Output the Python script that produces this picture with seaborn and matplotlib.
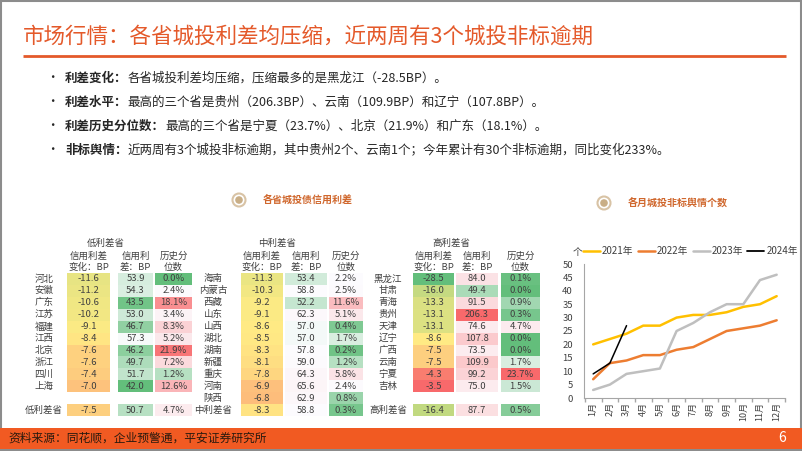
#!/usr/bin/env python3
"""
市场行情页：各省城投信用利差表 + 各月城投非标舆情个数折线
"""

import numpy as np
import pandas as pd
import matplotlib
matplotlib.use('Agg')
import matplotlib.pyplot as plt
import seaborn as sns
from matplotlib.colors import LinearSegmentedColormap, TwoSlopeNorm
from matplotlib.patches import Rectangle, Circle
from matplotlib.lines import Line2D

# ---------------- 数据 ----------------
low_names = ['河北', '安徽', '广东', '江苏', '福建', '江西', '北京', '浙江', '四川', '上海']
low_chg = [-11.6, -11.2, -10.6, -10.2, -9.1, -8.4, -7.6, -7.6, -7.4, -7.0]
low_spread = [53.9, 54.3, 43.5, 53.0, 46.7, 57.3, 46.2, 49.7, 51.7, 42.0]
low_pct = [0.0, 2.4, 18.1, 3.4, 8.3, 5.2, 21.9, 7.2, 1.2, 12.6]
low_total = [-7.5, 50.7, 4.7]

mid_names = ['海南', '内蒙古', '西藏', '山东', '山西', '湖北', '湖南', '新疆', '重庆', '河南', '陕西']
mid_chg = [-11.3, -10.3, -9.2, -9.1, -8.6, -8.5, -8.3, -8.1, -7.8, -6.9, -6.8]
mid_spread = [53.4, 58.8, 52.2, 62.3, 57.0, 57.0, 57.8, 59.0, 64.3, 65.6, 62.9]
mid_pct = [2.2, 2.5, 11.6, 5.1, 0.4, 1.7, 0.2, 1.2, 5.8, 2.4, 0.8]
mid_total = [-8.3, 58.8, 0.3]

high_names = ['黑龙江', '甘肃', '青海', '贵州', '天津', '辽宁', '广西', '云南', '宁夏', '吉林']
high_chg = [-28.5, -16.0, -13.3, -13.1, -13.1, -8.6, -7.5, -7.5, -4.3, -3.5]
high_spread = [84.0, 49.4, 91.5, 206.3, 74.6, 107.8, 73.5, 109.9, 99.2, 75.0]
high_pct = [0.1, 0.0, 0.9, 0.3, 4.7, 0.0, 0.0, 1.7, 23.7, 1.5]
high_total = [-16.4, 87.7, 0.5]

months = ['1月', '2月', '3月', '4月', '5月', '6月', '7月', '8月', '9月', '10月', '11月', '12月']
nb_2021 = [20, 22, 24, 27, 27, 30, 31, 31, 32, 34, 35, 38]
nb_2022 = [7, 13, 14, 16, 16, 18, 19, 22, 25, 26, 27, 29]
nb_2023 = [3, 5, 9, 10, 11, 25, 28, 32, 35, 35, 44, 46]
nb_2024 = [9, 13, 27]

bullets = [
    ('利差变化：', '各省城投利差均压缩，压缩最多的是黑龙江（-28.5BP）。'),
    ('利差水平：', '最高的三个省是贵州（206.3BP）、云南（109.9BP）和辽宁（107.8BP）。'),
    ('利差历史分位数：', '最高的三个省是宁夏（23.7%）、北京（21.9%）和广东（18.1%）。'),
    ('非标舆情：', '近两周有3个城投非标逾期，其中贵州2个、云南1个；今年累计有30个非标逾期，同比变化233%。'),
]

# ---------------- 样式 ----------------
sns.set_theme(style='white')
plt.rcParams['font.family'] = ['Noto Sans CJK SC', 'DejaVu Sans']

ORANGE = '#E4592A'
TXT = '#404040'
W, H = 802, 451

fig = plt.figure(figsize=(W / 100, H / 100), dpi=100)
fig.patch.set_facecolor('white')

# 背景轴：坐标即像素
bg = fig.add_axes([0, 0, 1, 1])
bg.set_xlim(0, W)
bg.set_ylim(H, 0)
bg.axis('off')


def box(x0, x1, y0, y1):
    return [x0 / W, 1 - y1 / H, (x1 - x0) / W, (y1 - y0) / H]


# 外框、标题、分隔线
bg.add_patch(Rectangle((0.8, 0.8), W - 1.6, H - 1.6, fill=False, ec='#8c8c8c', lw=1.5))
bg.text(23, 37, '市场行情：各省城投利差均压缩，近两周有3个城投非标逾期',
        fontsize=15.5, color=ORANGE, va='center', ha='left')
bg.plot([23, 786], [56, 56], color=ORANGE, lw=2, solid_capstyle='butt')

# 要点
for i, (head, rest) in enumerate(bullets):
    y = 78 + i * 24
    bg.text(52, y, '•', fontsize=9, color='#262626', va='center', ha='center')
    t = bg.text(65, y, head, fontsize=9, fontweight='bold', color='#262626',
                va='center', ha='left')
    bg.annotate(rest, xy=(1, 0), xycoords=t, va='bottom', ha='left',
                fontsize=9, color='#262626')

# 小标题图标
for cx, cy, label in [(239, 200, '各省城投债信用利差'), (604, 203, '各月城投非标舆情个数')]:
    bg.add_patch(Circle((cx, cy), 6.5, fc='white', ec='#D8C3A5', lw=1.5))
    bg.add_patch(Circle((cx, cy), 3.8, fc='#C9AE86', ec='none'))
    bg.text(cx + 24, cy, label, fontsize=7.2, color='#D0682E', fontweight='bold',
            va='center', ha='left')

# 页脚
bg.add_patch(Rectangle((0, 428), W, 21, fc='#F15A22', ec='none'))
bg.text(8, 438.5, '资料来源：同花顺，企业预警通，平安证券研究所', fontsize=8.5,
        color='#2b1a0e', va='center', ha='left')
bg.text(782, 438, '6', fontsize=10, color='white', va='center', ha='center')

# ---------------- 利差表（热力图） ----------------
green, yellow, white, red = '#63BE7B', '#FFEB84', '#FCFCFF', '#F8696B'
cmap_gyr = LinearSegmentedColormap.from_list('gyr', [green, yellow, red])
cmap_gwr = LinearSegmentedColormap.from_list('gwr', [green, white, red])

all_chg = low_chg + mid_chg + high_chg
all_spread = low_spread + mid_spread + high_spread
all_pct = low_pct + mid_pct + high_pct
norms = [
    TwoSlopeNorm(vmin=min(all_chg), vcenter=float(np.median(all_chg)), vmax=max(all_chg)),
    TwoSlopeNorm(vmin=min(all_spread), vcenter=float(np.median(all_spread)), vmax=max(all_spread)),
    TwoSlopeNorm(vmin=min(all_pct), vcenter=float(np.median(all_pct)), vmax=max(all_pct)),
]
cmaps = [cmap_gyr, cmap_gwr, cmap_gwr]
fmts = [lambda v: f'{v:.1f}', lambda v: f'{v:.1f}', lambda v: f'{v:.1f}%']
col_heads = ['信用利差\n变化：BP', '信用利\n差：BP', '历史分\n位数']

TOP, BOT, NROW = 273, 416, 12
pitch = (BOT - TOP) / NROW

tables = [
    ('低利差省', low_names, [low_chg, low_spread, low_pct], low_total, 44, 106,
     [(67, 110), (118, 153), (155, 192)]),
    ('中利差省', mid_names, [mid_chg, mid_spread, mid_pct], mid_total, 213, 277,
     [(241, 283), (285, 327), (329, 363)]),
    ('高利差省', high_names, [high_chg, high_spread, high_pct], high_total, 388, 451,
     [(413, 454), (456, 498), (501, 540)]),
]

for group, names, cols, total, label_x, head_x, spans in tables:
    gap = len(names) < NROW - 1
    row_names = names + ([''] if gap else []) + [group]
    for r, nm in enumerate(row_names):
        bg.text(label_x, TOP + (r + 0.5) * pitch, nm, fontsize=6.8, color=TXT,
                ha='center', va='center')
    bg.text(head_x, 243, group, fontsize=6.8, color=TXT, ha='center', va='center')

    for k in range(3):
        vals = cols[k] + ([np.nan] if gap else []) + [total[k]]
        data = np.array(vals, dtype=float).reshape(-1, 1)
        annot = np.array(['' if np.isnan(v) else fmts[k](v) for v in vals]).reshape(-1, 1)
        x0, x1 = spans[k]
        ax = fig.add_axes(box(x0, x1, TOP, BOT))
        sns.heatmap(data, ax=ax, cmap=cmaps[k], norm=norms[k], cbar=False,
                    annot=annot, fmt='', xticklabels=False, yticklabels=False,
                    annot_kws={'color': TXT, 'fontsize': 6.8})
        ax.set_facecolor('white')
        bg.text((x0 + x1) / 2, 261.5, col_heads[k], fontsize=6.8, color=TXT,
                ha='center', va='center', linespacing=1.25)

# ---------------- 非标舆情折线 ----------------
ax = fig.add_axes(box(584, 785, 264, 398))
series = [('2021年', nb_2021, '#FFC000', 1.8), ('2022年', nb_2022, '#ED7D31', 1.8),
          ('2023年', nb_2023, '#BFBFBF', 1.8), ('2024年', nb_2024, '#000000', 1.1)]
for name, vals, color, lw in series:
    df = pd.DataFrame({'月份': np.arange(len(vals)), '个数': vals})
    sns.lineplot(data=df, x='月份', y='个数', ax=ax, color=color, linewidth=lw)

ax.set_xlim(-0.55, 11.5)
ax.set_ylim(0, 50)
ax.set_yticks(range(0, 51, 5))
ax.set_xticks(range(12))
ax.set_xticklabels(months, rotation=90, fontsize=6.5, color=TXT)
ax.set_xticks(np.arange(-0.5, 12, 1), minor=True)
ax.tick_params(axis='y', labelsize=6.8, labelcolor=TXT, length=2, direction='in',
               color='#A6A6A6', pad=8)
ax.tick_params(axis='x', which='major', length=0, pad=3)
ax.tick_params(axis='x', which='minor', length=3, color='#A6A6A6', direction='out', bottom=True)
ax.set_xlabel('')
ax.set_ylabel('')
for s in ['top', 'right']:
    ax.spines[s].set_visible(False)
for s in ['left', 'bottom']:
    ax.spines[s].set_color('#A6A6A6')
    ax.spines[s].set_linewidth(0.8)
ax.grid(False)

bg.text(578, 252, '个', fontsize=7, color=TXT, ha='center', va='center')
handles = [Line2D([], [], color=c, lw=lw if lw > 1.5 else 1.3) for _, _, c, lw in series]
fig.legend(handles, [s[0] for s in series], loc='center left',
           bbox_to_anchor=(583 / W, 1 - 251 / H), ncol=4, frameon=False,
           fontsize=7, handlelength=1.75, handletextpad=0.2, columnspacing=0.45,
           borderaxespad=0, borderpad=0, labelcolor=TXT)

fig.savefig('out.png', dpi=100)
